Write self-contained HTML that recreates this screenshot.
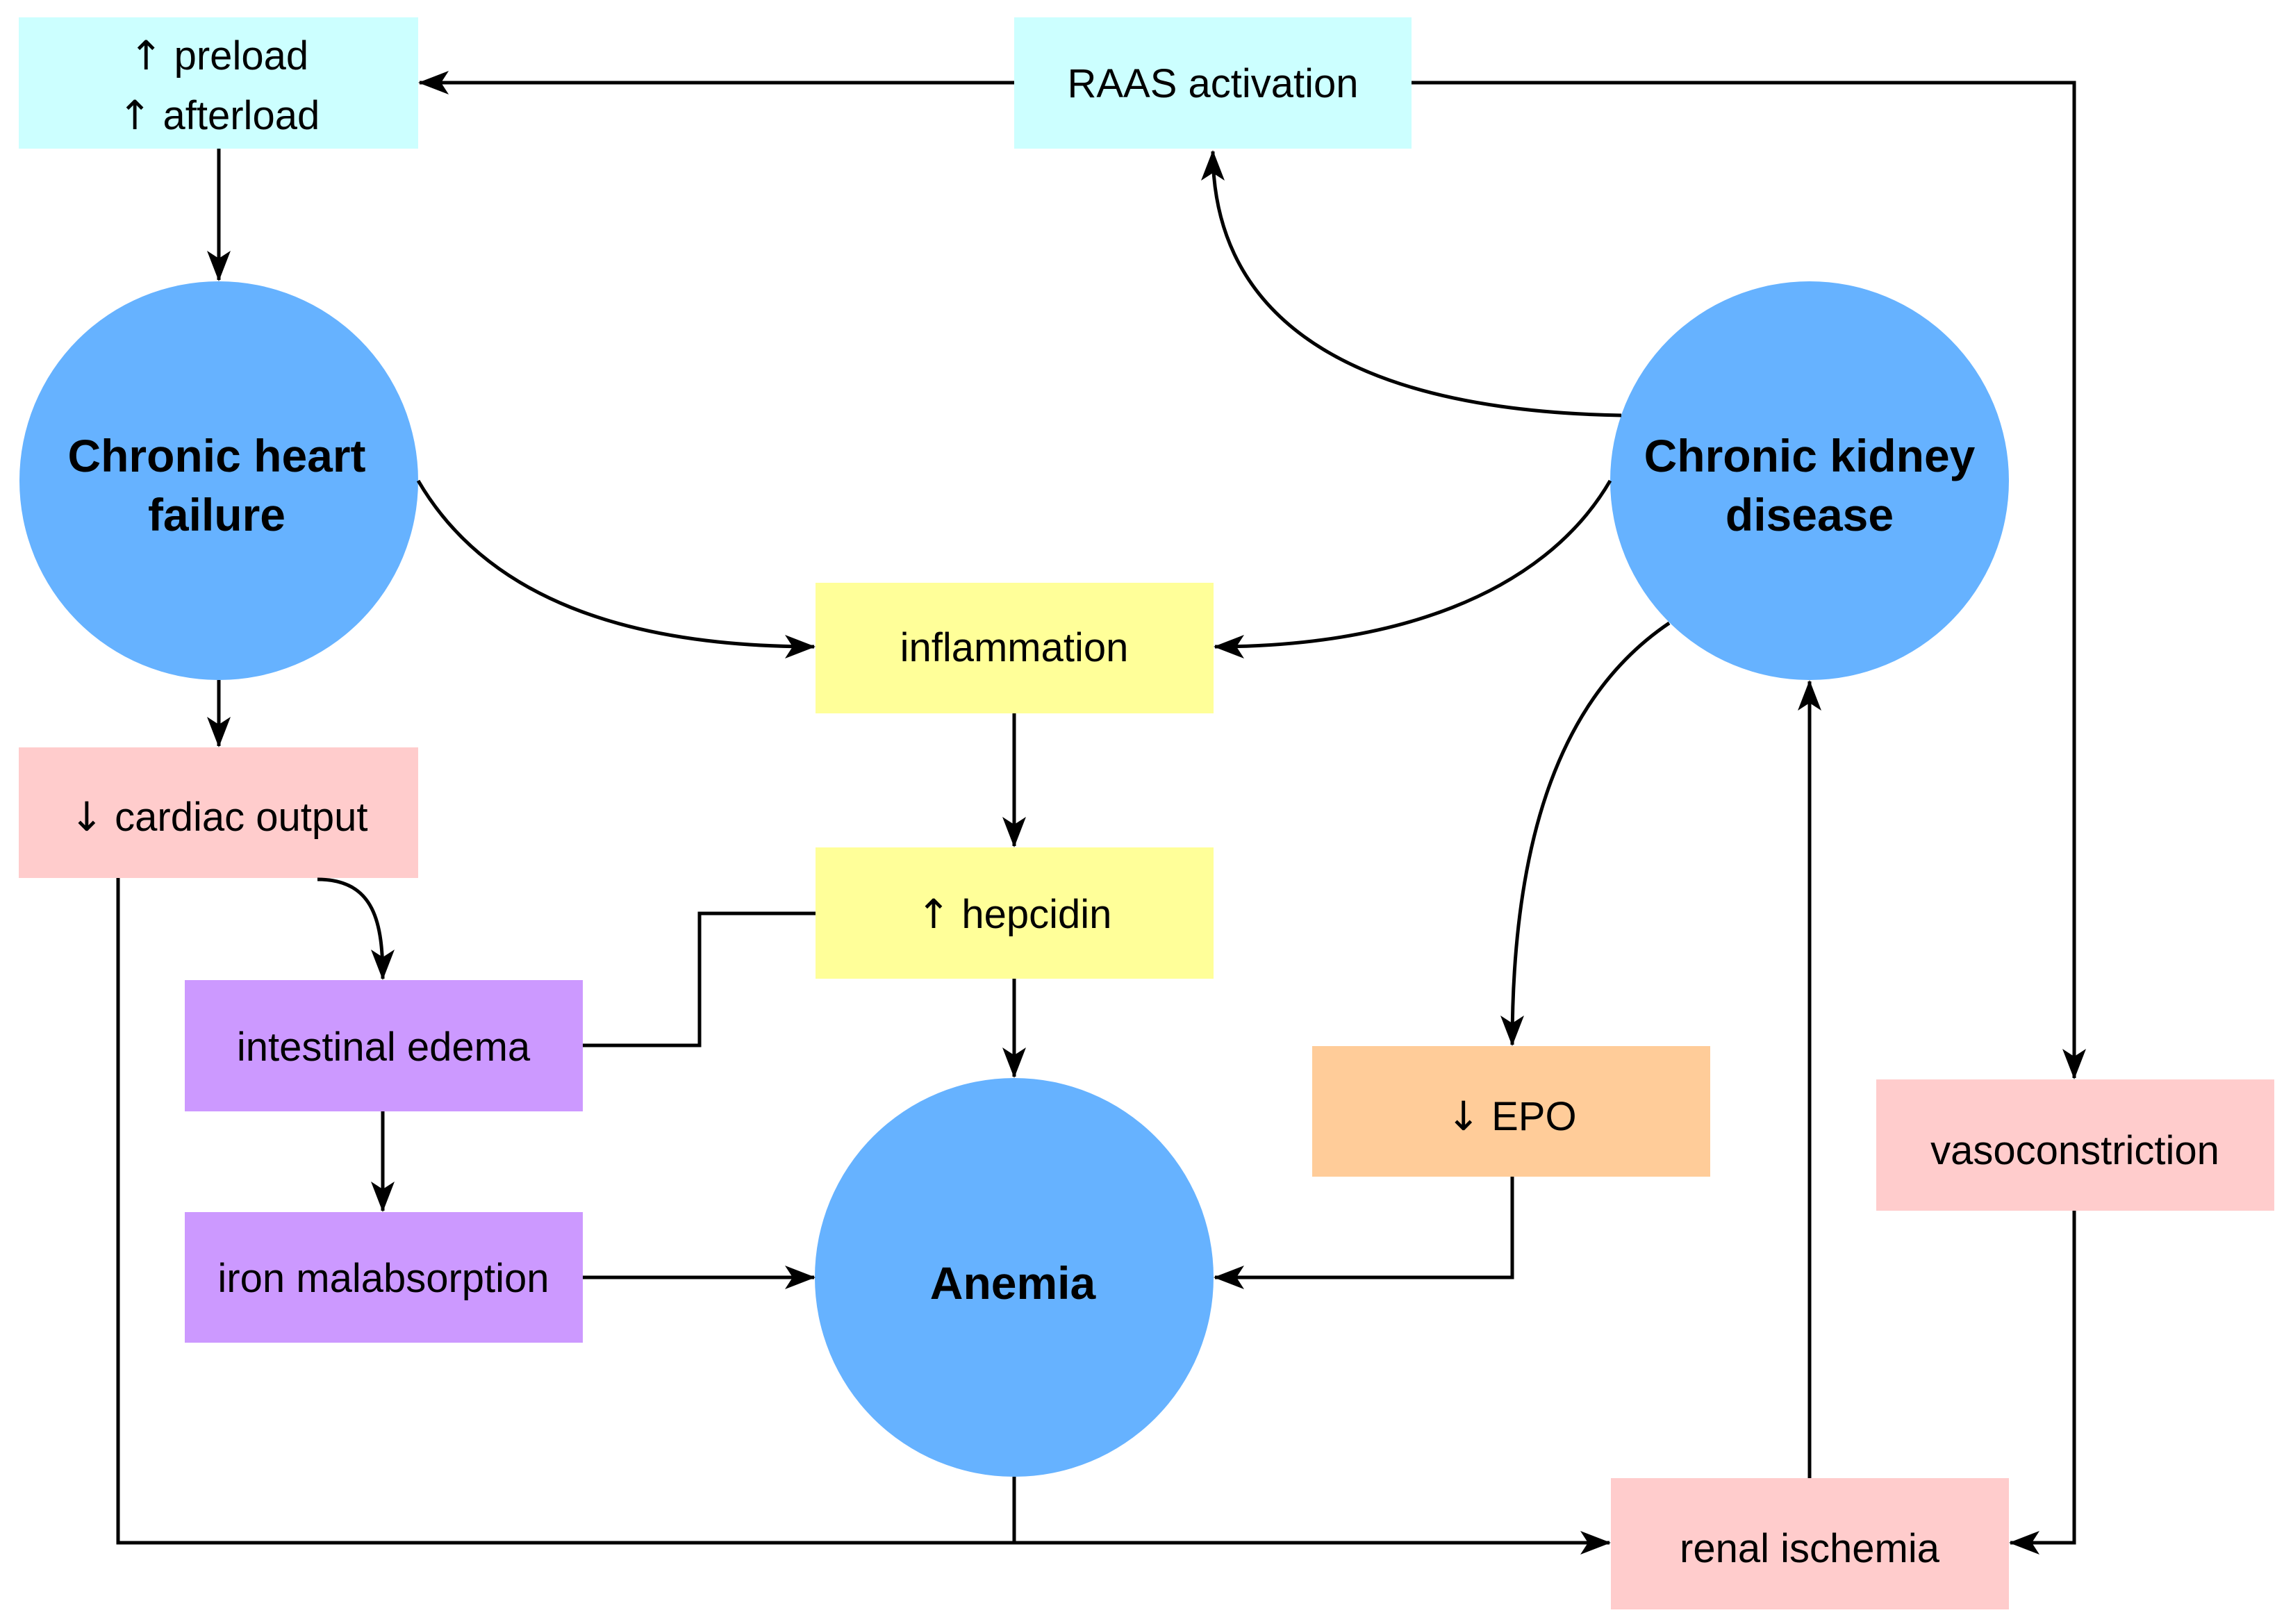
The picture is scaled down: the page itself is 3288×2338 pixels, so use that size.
<!DOCTYPE html>
<html><head><meta charset="utf-8"><style>
html,body{margin:0;padding:0;background:#fff}
svg{display:block}
text{font-family:"Liberation Sans",Arial,sans-serif;fill:#000}
.g{font-family:"DejaVu Sans",sans-serif}
</style></head><body>
<svg width="3288" height="2338" viewBox="0 0 3288 2338" xmlns="http://www.w3.org/2000/svg">
<defs>
<marker id="ar" viewBox="0 0 44 34" refX="42" refY="17" markerWidth="44" markerHeight="34" orient="auto" markerUnits="userSpaceOnUse">
<path d="M0,0 L44,17 L0,34 L11,17 Z" fill="#000"/>
</marker>
</defs>
<rect width="3288" height="2338" fill="#fff"/>
<rect x="27" y="25" width="575" height="189" fill="#ccffff"/>
<rect x="1460" y="25" width="572" height="189" fill="#ccffff"/>
<circle cx="315" cy="692" r="287" fill="#66b2ff"/>
<circle cx="2605" cy="692" r="287" fill="#66b2ff"/>
<circle cx="1460" cy="1839" r="287" fill="#66b2ff"/>
<rect x="1174" y="839" width="573" height="188" fill="#ffff99"/>
<rect x="1174" y="1220" width="573" height="189" fill="#ffff99"/>
<rect x="27" y="1076" width="575" height="188" fill="#ffcccc"/>
<rect x="266" y="1411" width="573" height="189" fill="#cc99ff"/>
<rect x="266" y="1745" width="573" height="188" fill="#cc99ff"/>
<rect x="1889" y="1506" width="573" height="188" fill="#ffcc99"/>
<rect x="2701" y="1554" width="573" height="189" fill="#ffcccc"/>
<rect x="2319" y="2128" width="573" height="189" fill="#ffcccc"/>
<g fill="none" stroke="#000" stroke-width="5">
<path d="M1460,119 L604,119" marker-end="url(#ar)"/>
<path d="M2032,119 L2986,119 L2986,1552" marker-end="url(#ar)"/>
<path d="M315,214 L315,403" marker-end="url(#ar)"/>
<path d="M2334,598 C1900,590 1746,430 1746,218" marker-end="url(#ar)"/>
<path d="M602,692 C700,860 900,931 1172,931" marker-end="url(#ar)"/>
<path d="M2318,692 C2220,860 2000,931 1749,931" marker-end="url(#ar)"/>
<path d="M2403,897 C2250,1000 2177,1200 2177,1504" marker-end="url(#ar)"/>
<path d="M1460,1027 L1460,1218" marker-end="url(#ar)"/>
<path d="M1460,1409 L1460,1550" marker-end="url(#ar)"/>
<path d="M1174,1315 L1007,1315 L1007,1505 L839,1505"/>
<path d="M457,1266 C540,1266 551,1330 551,1409" marker-end="url(#ar)"/>
<path d="M315,979 L315,1074" marker-end="url(#ar)"/>
<path d="M551,1600 L551,1743" marker-end="url(#ar)"/>
<path d="M839,1839 L1172,1839" marker-end="url(#ar)"/>
<path d="M2177,1694 L2177,1839 L1749,1839" marker-end="url(#ar)"/>
<path d="M170,1264 L170,2221 L2317,2221" marker-end="url(#ar)"/>
<path d="M1460,2126 L1460,2221"/>
<path d="M2605,2128 L2605,981" marker-end="url(#ar)"/>
<path d="M2986,1743 L2986,2221 L2894,2221" marker-end="url(#ar)"/>
</g>
<g font-size="58" text-anchor="middle">
<text x="315" y="100"><tspan class="g">↑</tspan> preload</text>
<text x="315" y="186"><tspan class="g">↑</tspan> afterload</text>
<text x="1746" y="140">RAAS activation</text>
<text x="1460" y="952">inflammation</text>
<text x="1460" y="1336"><tspan class="g">↑</tspan> hepcidin</text>
<text x="315" y="1196"><tspan class="g">↓</tspan> cardiac output</text>
<text x="552" y="1527">intestinal edema</text>
<text x="552" y="1860">iron malabsorption</text>
<text x="2176" y="1627"><tspan class="g">↓</tspan> EPO</text>
<text x="2987" y="1676">vasoconstriction</text>
<text x="2605" y="2249">renal ischemia</text>
</g>
<g font-size="66" font-weight="bold" text-anchor="middle">
<text x="312" y="679">Chronic heart</text>
<text x="312" y="764">failure</text>
<text x="2605" y="679">Chronic kidney</text>
<text x="2605" y="764">disease</text>
<text x="1458" y="1870">Anemia</text>
</g>
</svg>
</body></html>
